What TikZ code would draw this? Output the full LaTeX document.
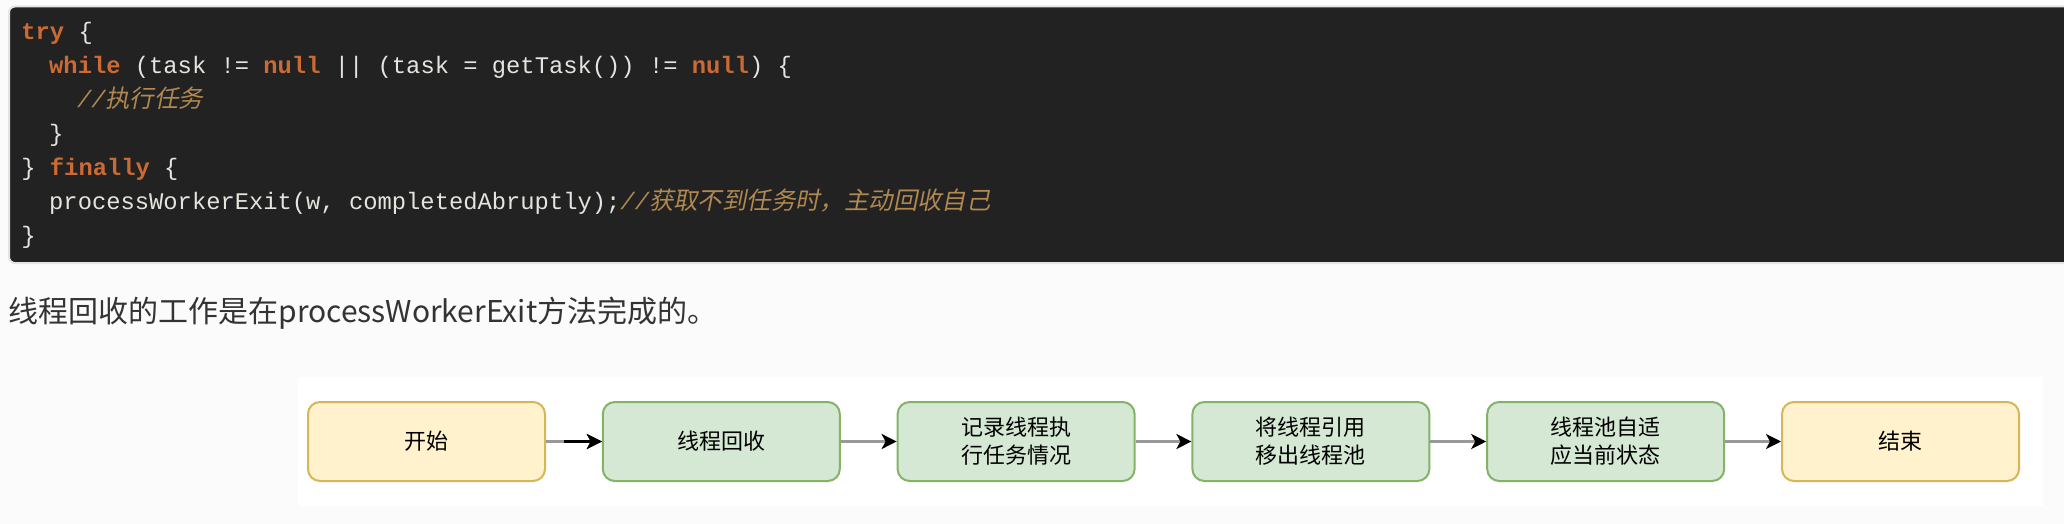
\documentclass[tikz,border=0pt]{standalone}
\usepackage{fontspec}
\setmainfont{Liberation Sans}
\setmonofont{Liberation Mono}
\newfontfamily\cjk{Noto Sans CJK SC}
\newfontfamily\cjkit{Noto Sans CJK SC}[FakeSlant=0.2]
\usetikzlibrary{arrows.meta,calc}
\definecolor{pagebg}{HTML}{FBFBFB}
\definecolor{codebg}{HTML}{222222}
\definecolor{codeborder}{HTML}{E4E4E4}
\definecolor{kwc}{HTML}{CC6A35}
\definecolor{plainc}{HTML}{E6E4DE}
\definecolor{cmc}{HTML}{B08850}
\definecolor{yfill}{HTML}{FFF2CC}
\definecolor{ystroke}{HTML}{D6B656}
\definecolor{gfill}{HTML}{D5E8D4}
\definecolor{gstroke}{HTML}{82B366}
\definecolor{linec}{HTML}{999999}
\definecolor{paratext}{HTML}{333333}
\newcommand\kwd[1]{{\color{kwc}\bfseries #1}}
\newcommand\cmt[1]{{\color{cmc}\itshape //{\cjkit\fontsize{12.2}{14}\selectfont #1}}}
\tikzset{
  codeline/.style={anchor=base west, inner sep=0pt, text=plainc,
    font=\ttfamily\fontsize{11.9}{14}\selectfont},
  flowbox/.style={rounded corners=6pt, line width=1pt, minimum width=118.5pt,
    minimum height=39.5pt, align=center, inner sep=2pt,
    font=\cjk\fontsize{11}{14}\selectfont, text=black},
  ybox/.style={flowbox, fill=yfill, draw=ystroke},
  gbox/.style={flowbox, fill=gfill, draw=gstroke},
  arr/.style={draw=linec, line width=1.6pt,
    -{Stealth[length=7.5pt,width=7.5pt,inset=2pt,color=black]}},
  arrblack/.style={draw=black, line width=1.6pt,
    -{Stealth[length=7.5pt,width=7.5pt,inset=2pt,color=black]}}
}
\begin{document}
\begin{tikzpicture}[x=0.5pt,y=-0.5pt]
\useasboundingbox (0,0) rectangle (2064,524);
\clip (0,0) rectangle (2064,524);
\fill[pagebg] (0,0) rectangle (2064,524);
% code block
\filldraw[fill=codebg, draw=codeborder, line width=1pt, rounded corners=3pt]
  (9,6.5) rectangle (2090,263);
\node[codeline] (l1) at (21,40) {\kwd{try} \{};
\node[codeline] (l2) at (48.8,74) {\kwd{while} (task != \kwd{null} || (task = getTask()) != \kwd{null}) \{};
\node[codeline] (l3) at (76.6,107.5) {\cmt{执行任务}};
\node[codeline] (l4) at (48.8,141.5) {\}};
\node[codeline] (l5) at (21,175) {\} \kwd{finally} \{};
\node[codeline] (l6) at (48.8,209) {processWorkerExit(w, completedAbruptly);\cmt{获取不到任务时，主动回收自己}};
\node[codeline] (l7) at (21,243) {\}};
% paragraph
\node[anchor=base west, inner sep=0pt, text=paratext,
  font=\cjk\fontsize{15}{18}\selectfont] (para) at (8,322)
  {线程回收的工作是在processWorkerExit方法完成的。};
% diagram background
\fill[white] (298,377) rectangle (2043,506);
% flow boxes
\node[ybox] (b1) at (426.5,441.5) {开始};
\node[gbox] (b2) at (721.3,441.5) {线程回收};
\node[gbox] (b3) at (1016.1,441.5) {记录线程执\\行任务情况};
\node[gbox] (b4) at (1310.9,441.5) {将线程引用\\移出线程池};
\node[gbox] (b5) at (1605.7,441.5) {线程池自适\\应当前状态};
\node[ybox] (b6) at (1900.5,441.5) {结束};
% connectors
\draw[arr] (b1) -- (b2);
\coordinate (k1) at ($(b1.east)+(18,0)$);
\draw[arrblack] (k1) -- (b2);
\draw[arr] (b2) -- (b3);
\draw[arr] (b3) -- (b4);
\draw[arr] (b4) -- (b5);
\draw[arr] (b5) -- (b6);
\end{tikzpicture}
\end{document}
